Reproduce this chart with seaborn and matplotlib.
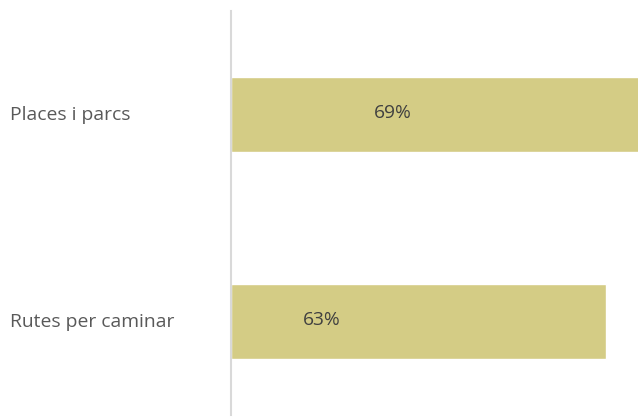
import matplotlib
matplotlib.use("Agg")
import matplotlib.pyplot as plt
import seaborn as sns
import pandas as pd

categories = ["Places i parcs", "Rutes per caminar"]
values = [69, 63]
value_labels = ["69%", "63%"]
# horizontal position of each value label, in percentage units
label_x = [27.2, 15.3]

df = pd.DataFrame({"categoria": categories, "valor": values})

sns.set_theme(style="white")
plt.rcParams["font.family"] = ["Open Sans", "DejaVu Sans"]

fig = plt.figure(figsize=(6.38, 4.19), dpi=100)
ax = fig.add_axes([231 / 638, 4 / 419, (638 - 231) / 638, (415 - 11) / 419])

sns.barplot(data=df, x="valor", y="categoria", orient="h", color="#d4cc85",
            saturation=1, width=0.36, ax=ax)

ax.set_xlim(0, 68.4)
ax.set_ylim(1.45, -0.5)
ax.set_xlabel("")
ax.set_ylabel("")
ax.set_xticks([])

for side in ["top", "right", "bottom"]:
    ax.spines[side].set_visible(False)
ax.spines["left"].set_color("#d9d9d9")
ax.spines["left"].set_linewidth(1.5)

ax.tick_params(axis="y", length=0, pad=221 * 72 / 100, labelsize=13.9, labelcolor="#595959")
for t in ax.get_yticklabels():
    t.set_horizontalalignment("left")
    t.set_verticalalignment("center")

for i, (lx, lab) in enumerate(zip(label_x, value_labels)):
    ax.text(lx, i - 0.01, lab, ha="center", va="center", fontsize=13.8, color="#404040")

fig.savefig("out.png", dpi=100)
